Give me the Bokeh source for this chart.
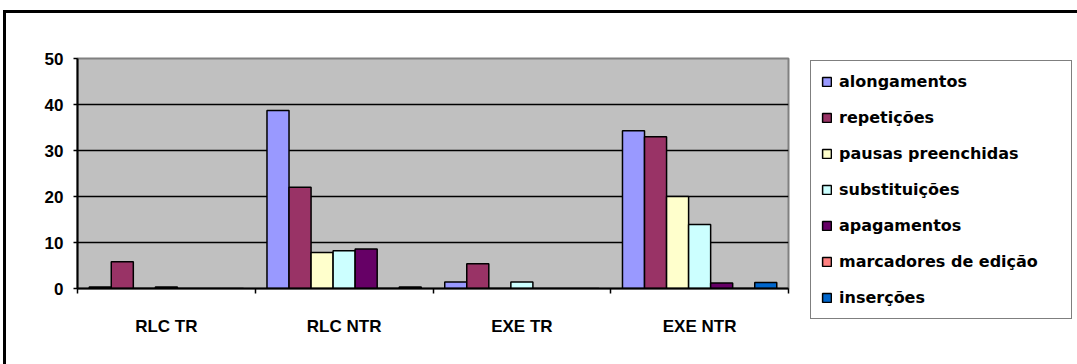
from bokeh.plotting import figure
from bokeh.models import (ColumnDataSource, Range1d, FixedTicker, Legend, LegendItem)
from bokeh.transform import dodge
from bokeh.embed import file_html
from bokeh.resources import INLINE

categories = ["RLC TR", "RLC NTR", "EXE TR", "EXE NTR"]
series = ["alongamentos", "repetições", "pausas preenchidas", "substituições",
          "apagamentos", "marcadores de edição", "inserções"]
alongamentos = [0.3, 38.7, 1.4, 34.3]
repeticoes = [5.8, 22.0, 5.4, 33.0]
pausas = [0.0, 7.8, 0.0, 20.0]
substituicoes = [0.3, 8.2, 1.4, 13.9]
apagamentos = [0.0, 8.6, 0.0, 1.2]
marcadores = [0.0, 0.0, 0.0, 0.0]
insercoes = [0.0, 0.3, 0.0, 1.3]
y_ticks = [0, 10, 20, 30, 40, 50]

values = [alongamentos, repeticoes, pausas, substituicoes, apagamentos, marcadores, insercoes]
colors = ["#9999FF", "#993366", "#FFFFCC", "#CCFFFF", "#660066", "#FF8080", "#0066CC"]

data = {"g": [i + 0.5 for i in range(len(categories))]}
for k, v in enumerate(values):
    data["s%d" % k] = v
source = ColumnDataSource(data)

p = figure(frame_width=711, frame_height=230, x_range=Range1d(0, 4), y_range=Range1d(0, 50),
           output_backend="svg", toolbar_location=None,
           min_border_left=71, min_border_right=289, min_border_top=45, min_border_bottom=76)
p.styles = {"margin-left": "3px", "margin-top": "10px",
            "border-top": "3px solid black", "border-left": "3px solid black"}

p.background_fill_color = "#C0C0C0"
p.border_fill_color = "white"
p.outline_line_color = "#808080"
p.outline_line_width = 2

bw = 0.124
items = []
for k, name in enumerate(series):
    r = p.vbar(x=dodge("g", (k - 3) * bw), top="s%d" % k, width=bw, bottom=0,
               source=source, fill_color=colors[k], line_color="black", line_width=1.5)
    items.append(LegendItem(label=name, renderers=[r]))

# grid
p.xgrid.visible = False
p.ygrid.ticker = FixedTicker(ticks=y_ticks[1:-1])
p.ygrid.grid_line_color = "black"
p.ygrid.grid_line_width = 1.5

# y axis
ya = p.yaxis[0]
ya.ticker = FixedTicker(ticks=y_ticks)
ya.axis_line_color = "black"
ya.axis_line_width = 2
ya.major_tick_out = 4
ya.major_tick_in = 0
ya.major_tick_line_width = 1.5
ya.minor_tick_line_color = None
ya.major_label_text_font = "Liberation Sans"
ya.major_label_text_font_style = "bold"
ya.major_label_text_font_size = "17px"
ya.major_label_text_color = "black"
ya.major_label_standoff = 10

# x axis
xa = p.xaxis[0]
xa.ticker = FixedTicker(ticks=[i + 0.5 for i in range(len(categories))],
                        minor_ticks=list(range(len(categories) + 1)))
xa.major_label_overrides = {i + 0.5: c for i, c in enumerate(categories)}
xa.axis_line_color = "black"
xa.axis_line_width = 2
xa.major_tick_line_color = None
xa.minor_tick_line_color = "black"
xa.minor_tick_line_width = 1.5
xa.minor_tick_out = 5
xa.minor_tick_in = 0
xa.major_label_text_font = "Liberation Sans"
xa.major_label_text_font_style = "bold"
xa.major_label_text_font_size = "17px"
xa.major_label_text_color = "black"
xa.major_label_standoff = 22

legend = Legend(items=items, location=(22, -31), margin=0,
                padding=10, spacing=15, label_height=21, label_width=222,
                glyph_width=11, glyph_height=11, label_standoff=7,
                border_line_color="black", border_line_width=1.5,
                background_fill_color="white", background_fill_alpha=1,
                label_text_font="DejaVu Sans", label_text_font_style="bold",
                label_text_font_size="16px", label_text_color="black")
p.add_layout(legend, "right")

open("out.html", "w").write(file_html(p, INLINE))
